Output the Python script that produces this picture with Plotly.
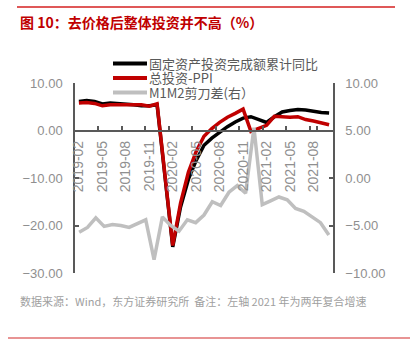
import plotly.graph_objects as go

# ---- data ----
months = ["2019-02", "2019-03", "2019-04", "2019-05", "2019-06", "2019-07", "2019-08",
          "2019-09", "2019-10", "2019-11", "2019-12", "2020-01", "2020-02", "2020-03",
          "2020-04", "2020-05", "2020-06", "2020-07", "2020-08", "2020-09", "2020-10",
          "2020-11", "2020-12", "2021-01", "2021-02", "2021-03", "2021-04", "2021-05",
          "2021-06", "2021-07", "2021-08", "2021-09", "2021-10"]
fai_cum_yoy = [6.1, 6.3, 6.1, 5.6, 5.8, 5.7, 5.5, 5.4, 5.2, 5.2, 5.4,
               None, -24.5, -16.1, -10.3, -6.3, -3.1, -1.6, -0.3, 0.8, 1.8, 2.6, 2.9,
               None, 1.7, 2.9, 3.9, 4.2, 4.4, 4.3, 4.0, 3.8, 3.7]
inv_minus_ppi = [5.8, 5.9, 5.7, 5.2, 5.4, 5.4, 5.4, 5.5, 5.4, 5.1, 5.6,
                 None, -24.2, -15.3, -8.8, -4.4, -1.2, 0.4, 1.7, 2.8, 3.6, 4.5, -0.2,
                 None, 1.1, 3.0, 2.9, 2.8, 2.9, 2.3, 2.0, 1.6, 1.2]
m_months = ["2019-04", "2019-05", "2019-06", "2019-07", "2019-08", "2019-09", "2019-10",
            "2019-11", "2019-12", "2020-01", "2020-02", "2020-03", "2020-04", "2020-05",
            "2020-06", "2020-07", "2020-08", "2020-09", "2020-10", "2020-11", "2020-12",
            "2021-01", "2021-02", "2021-03", "2021-04", "2021-05", "2021-06", "2021-07",
            "2021-08", "2021-09", "2021-10"]
m1m2_gap = [-5.7, -5.2, -4.2, -5.1, -4.9, -5.0, -5.2, -4.8, -4.4,
            -8.6, -4.1, -5.0, -5.6, -4.4, -4.7, -3.9, -2.5, -2.9, -1.5, -0.8, -1.6,
            5.3, -2.8, -2.4, -2.0, -2.3, -3.2, -3.5, -4.1, -4.7, -6.0]
tick_labels = months[0:31:3]

series_names = ["固定资产投资完成额累计同比", "总投资-PPI", "M1M2剪刀差(右）"]
colors = ["#000000", "#c00000", "#bfbfbf"]

title_text = "图 10：去价格后整体投资并不高（%）"
source_text = "数据来源：Wind，东方证券研究所  备注：左轴 2021 年为两年复合增速"

# ---- layout geometry (plot area 75..333 x 83..273 px) ----
L, R, T, B = 75, 333, 83, 273
W, H = 416, 352
def px(x):
    return (x - L) / (R - L)
def py(y):
    return (B - y) / (B - T)

FONT = "Liberation Sans, Arial, Noto Sans CJK SC, sans-serif"
CJK = "Noto Sans CJK SC, Liberation Sans, sans-serif"
AX = "#595959"
TK = "#8f8f8f"

fig = go.Figure()
fig.add_trace(go.Scatter(x=months, y=fai_cum_yoy, mode="lines", name=series_names[0],
                         line=dict(color=colors[0], width=3.5), connectgaps=True))
fig.add_trace(go.Scatter(x=months, y=inv_minus_ppi, mode="lines", name=series_names[1],
                         line=dict(color=colors[1], width=3.5), connectgaps=True))
fig.add_trace(go.Scatter(x=m_months, y=m1m2_gap, mode="lines", name=series_names[2],
                         line=dict(color=colors[2], width=3.5), xaxis="x2", yaxis="y2"))

fig.update_layout(
    width=W, height=H,
    margin=dict(l=L, r=W - R, t=T, b=H - B, pad=0),
    paper_bgcolor="white", plot_bgcolor="white",
    showlegend=False,
    font=dict(family=FONT, color=TK, size=13),
    xaxis=dict(type="category", categoryorder="array", categoryarray=months,
               range=[-0.5, len(months) - 0.5], anchor="free", position=0.75,
               showline=True, linecolor=AX, linewidth=1.5, showgrid=False, zeroline=False,
               tickmode="array", tickvals=tick_labels, ticktext=tick_labels,
               tickson="boundaries", ticks="inside", ticklen=4, tickcolor=AX, tickwidth=1.5,
               tickangle=-90, tickfont=dict(size=14, color=TK, family=FONT),
               ticklabelstandoff=4),
    xaxis2=dict(type="category", categoryorder="array", categoryarray=m_months,
                range=[-0.5, len(m_months) - 0.5], overlaying="x", visible=False,
                anchor="y2"),
    yaxis=dict(range=[-30, 10], dtick=10, tickformat=".2f", showline=True, linecolor=AX,
               linewidth=1.5, showgrid=False, zeroline=False, ticks="inside", ticklen=4,
               tickcolor=AX, tickwidth=1.5, tickfont=dict(size=13, color=TK, family=FONT),
               ticklabelstandoff=8),
    yaxis2=dict(range=[-10, 10], dtick=5, tickformat=".2f", overlaying="y", side="right",
                anchor="x", showline=True, linecolor=AX, linewidth=1.5, showgrid=False,
                zeroline=False, ticks="inside", ticklen=4, tickcolor=AX, tickwidth=1.5,
                tickfont=dict(size=13, color=TK, family=FONT), ticklabelstandoff=8),
)

shapes = [
    dict(type="line", xref="paper", yref="paper", x0=px(17), x1=px(395), y0=py(7), y1=py(7),
         line=dict(color="#d42020", width=1.5)),
    dict(type="line", xref="paper", yref="paper", x0=px(8), x1=px(410), y0=py(338), y1=py(338),
         line=dict(color="#e07070", width=1.5)),
]
annotations = [
    dict(text="<b>" + title_text + "</b>", xref="paper", yref="paper", x=px(18), y=py(22),
         xanchor="left", yanchor="middle", showarrow=False,
         font=dict(family=CJK, size=14, color="#c00000")),
    dict(text=source_text, xref="paper", yref="paper", x=px(18), y=py(301),
         xanchor="left", yanchor="middle", showarrow=False,
         font=dict(family=CJK, size=11, color="#a0a0a0")),
]
leg_rows = [63.5, 78, 92.5]
for name, col, yy in zip(series_names, colors, leg_rows):
    shapes.append(dict(type="line", xref="paper", yref="paper", x0=px(113), x1=px(147),
                       y0=py(yy), y1=py(yy), line=dict(color=col, width=4)))
    annotations.append(dict(text=name, xref="paper", yref="paper", x=px(148), y=py(yy),
                            xanchor="left", yanchor="middle", showarrow=False, borderpad=0,
                            font=dict(family=CJK, size=13, color="#595959")))
fig.update_layout(shapes=shapes, annotations=annotations)

fig.write_html("out.html")
